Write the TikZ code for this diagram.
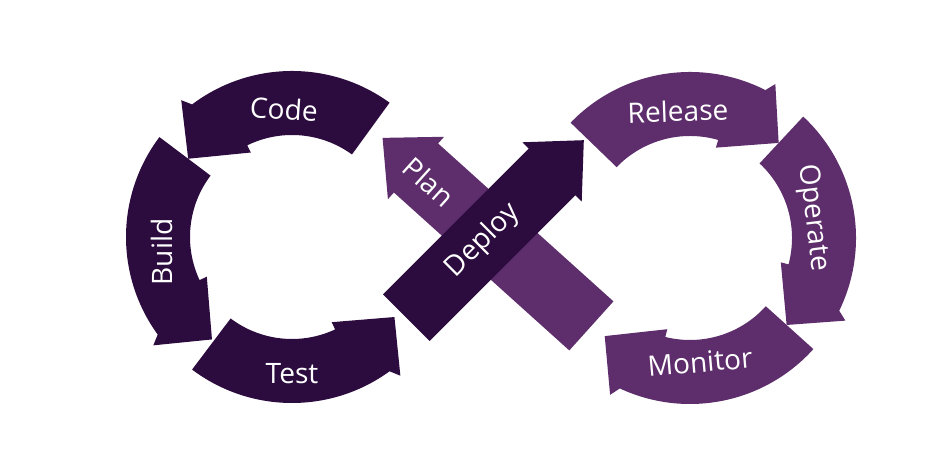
\documentclass[tikz,border=0pt]{standalone}
\usepackage{fontspec}
\setmainfont{Open Sans}
\definecolor{darkplum}{RGB}{44,11,62}
\definecolor{lightplum}{RGB}{94,46,108}
% ring arrow: centre, tail angle, turn (1 ccw / -1 cw), colour
\newcommand{\ringarrow}[4]{%
  \pgfmathsetmacro{\ringarcend}{#2+73*#3}%
  \pgfmathsetmacro{\ringoutwing}{#2+75*#3}%
  \pgfmathsetmacro{\ringtip}{#2+89*#3}%
  \pgfmathsetmacro{\ringinwing}{#2+62*#3}%
  \fill[#4] ([shift={(#1)}]#2:166) arc[start angle=#2, end angle=\ringarcend, radius=166]
  -- ([shift={(#1)}]\ringoutwing:176) -- ([shift={(#1)}]\ringtip:130)
  -- ([shift={(#1)}]\ringinwing:94) -- ([shift={(#1)}]\ringinwing:102)
  arc[start angle=\ringinwing, end angle=#2, radius=102] -- cycle;}
% straight arrow: base of head, angle, shaft length, colour
\newcommand{\straightarrow}[4]{\fill[#4, shift={(#1)}, rotate=#2] (-#3,-33) -- (0,-33) -- (0,-42) -- (45,0) -- (0,42) -- (0,33) -- (-#3,33) -- cycle;}

\begin{document}
\begin{tikzpicture}[x = 0.02cm, y = 0.02cm, every node/.style = {text = white, font = \fontsize{16}{18}\selectfont, inner sep = 0pt}]

	\useasboundingbox (0, 0) rectangle (949, 472);
	\coordinate (lc) at (292, 235);
	\coordinate (rc) at (690, 234);
	\coordinate (planbase) at (416, 304);
	\coordinate (deploybase) at (552, 300);

    \foreach \c/\t/\d/\col in {lc/54/1/darkplum, lc/143/1/darkplum, lc/233/1/darkplum,
    rc/136/-1/lightplum, rc/47/-1/lightplum, rc/-42/-1/lightplum}
    	\ringarrow{\c}{\t}{\d}{\col};

    \straightarrow{planbase}{138}{236}{lightplum}
    \straightarrow{deploybase}{45}{206}{darkplum}

	\node (code)    at (284, 363) [rotate = -4]  {Code};
	\node (build)   at (162, 220) [rotate = 90]  {Build};
	\node (test)    at (292,  98)                {Test};
	\node (plan)    at (429, 290) [rotate = -42] {Plan};
	\node (deploy)  at (483, 231) [rotate = 45]  {Deploy};
	\node (release) at (678, 361) [rotate = 2]   {Release};
	\node (operate) at (813, 254) [rotate = -83] {Operate};
	\node (monitor) at (700, 110) [rotate = 5]   {Monitor};

\end{tikzpicture}
\end{document}
